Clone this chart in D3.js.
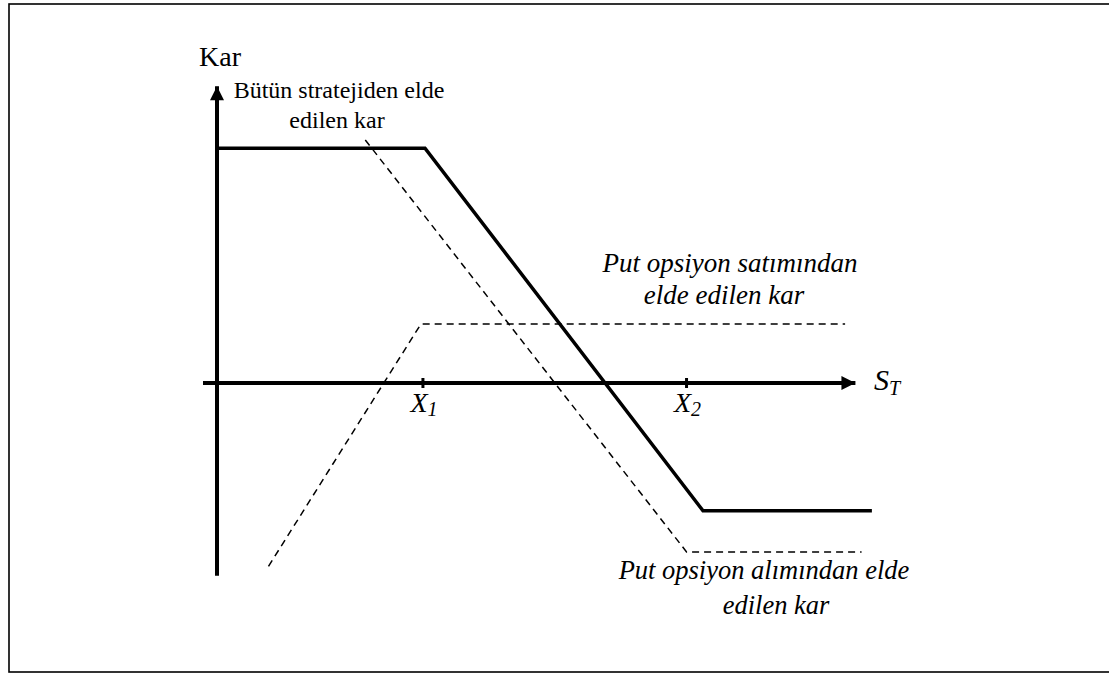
<!DOCTYPE html>
<html>

<head>
  <meta charset="utf-8">
  <title>Put spread kar diyagramı</title>
  <style>
    body { margin: 0; background: #fff; }
  </style>
</head>

<body>
  <svg width="1109" height="675"></svg>
  <script src="https://d3js.org/d3.v7.min.js"></script>
  <script>
    // strike fiyatları (S_T ekseni üzerinde)
    var strikes = [
      { name: "X", sub: "1", s: 50 },
      { name: "X", sub: "2", s: 114 }
    ];

    // bütün stratejiden elde edilen kar (kalın çizgi)
    var totalProfit = [[0, 57], [50.5, 57], [118, -31], [159, -31]];
    // put opsiyon alımından elde edilen kar (kesikli)
    var longPut = [[36, 59], [114, -41], [156.5, -41]];
    // put opsiyon satımından elde edilen kar (kesikli)
    var shortPut = [[12.5, -44.5], [49.5, 14.3], [152.5, 14.3]];

    // eksen uçları
    var xAxisExtent = [-3.4, 155];
    var yAxisExtent = [-46.8, 72];

    var serif = "'Liberation Serif', Tinos, 'Times New Roman', 'Nimbus Roman', 'DejaVu Serif', serif";

    var svg = d3.select("svg")
      .attr("font-family", serif);

    // çerçeve
    svg.append("rect")
      .attr("x", 9).attr("y", 4)
      .attr("width", 1130).attr("height", 668)
      .attr("fill", "none").attr("stroke", "#000").attr("stroke-width", 1.6);

    var x = d3.scaleLinear().domain([0, 160]).range([217, 876]);
    var y = d3.scaleLinear().domain([0, 50]).range([383, 177]);

    // ok başı
    svg.append("defs").append("marker")
      .attr("id", "arrow")
      .attr("viewBox", "0 0 10 10")
      .attr("refX", 10).attr("refY", 5)
      .attr("markerWidth", 22).attr("markerHeight", 14)
      .attr("markerUnits", "userSpaceOnUse")
      .attr("orient", "auto")
      .append("path")
      .attr("d", "M0,0L10,5L0,10Z")
      .attr("fill", "#000");

    // y ekseni
    svg.append("line")
      .attr("x1", x(0)).attr("x2", x(0))
      .attr("y1", y(yAxisExtent[0])).attr("y2", y(yAxisExtent[1]))
      .attr("stroke", "#000").attr("stroke-width", 4)
      .attr("marker-end", "url(#arrow)");

    // x ekseni
    svg.append("line")
      .attr("x1", x(xAxisExtent[0])).attr("x2", x(xAxisExtent[1]))
      .attr("y1", y(0)).attr("y2", y(0))
      .attr("stroke", "#000").attr("stroke-width", 4)
      .attr("marker-end", "url(#arrow)");

    // strike işaretleri
    var tick = svg.selectAll(".strike")
      .data(strikes)
      .enter().append("g")
      .attr("class", "strike")
      .attr("transform", function (d) { return "translate(" + x(d.s) + "," + y(0) + ")"; });

    tick.append("line")
      .attr("y1", -5).attr("y2", 5)
      .attr("stroke", "#000").attr("stroke-width", 3);

    var tl = tick.append("text")
      .attr("x", 1)
      .attr("y", 29)
      .attr("text-anchor", "middle")
      .style("font-size", "28px")
      .style("font-style", "italic");
    tl.append("tspan").text(function (d) { return d.name; });
    tl.append("tspan")
      .attr("dy", 4)
      .style("font-size", "20px")
      .text(function (d) { return d.sub; });

    var line = d3.line()
      .x(function (d) { return x(d[0]); })
      .y(function (d) { return y(d[1]); });

    svg.append("path")
      .datum(longPut)
      .attr("d", line)
      .attr("fill", "none").attr("stroke", "#000")
      .attr("stroke-width", 1.5).attr("stroke-dasharray", "7,5");

    svg.append("path")
      .datum(shortPut)
      .attr("d", line)
      .attr("fill", "none").attr("stroke", "#000")
      .attr("stroke-width", 1.5).attr("stroke-dasharray", "7,5");

    svg.append("path")
      .datum(totalProfit)
      .attr("d", line)
      .attr("fill", "none").attr("stroke", "#000")
      .attr("stroke-width", 3.5).attr("stroke-linejoin", "miter");

    // eksen adları
    svg.append("text")
      .attr("x", 199).attr("y", 66)
      .style("font-size", "28px")
      .text("Kar");

    var st = svg.append("text")
      .attr("x", 874).attr("y", 390)
      .style("font-size", "30px")
      .style("font-style", "italic");
    st.append("tspan").text("S");
    st.append("tspan").attr("dy", 5).style("font-size", "20px").text("T");

    // açıklamalar
    function label(lines, cx, y0, dy, size, italic) {
      svg.append("g").selectAll("text")
        .data(lines)
        .enter().append("text")
        .attr("x", function (d, i) { return cx[i]; })
        .attr("y", function (d, i) { return y0 + i * dy; })
        .attr("text-anchor", "middle")
        .style("font-size", size + "px")
        .style("font-style", italic ? "italic" : "normal")
        .text(function (d) { return d; });
    }

    label(["Bütün stratejiden elde", "edilen kar"], [339, 337], 98, 30, 24, false);
    label(["Put opsiyon satımından", "elde edilen kar"], [730, 724], 272, 32, 27, true);
    label(["Put opsiyon alımından elde", "edilen kar"], [764, 776], 579, 35, 26.5, true);
  </script>
</body>

</html>
